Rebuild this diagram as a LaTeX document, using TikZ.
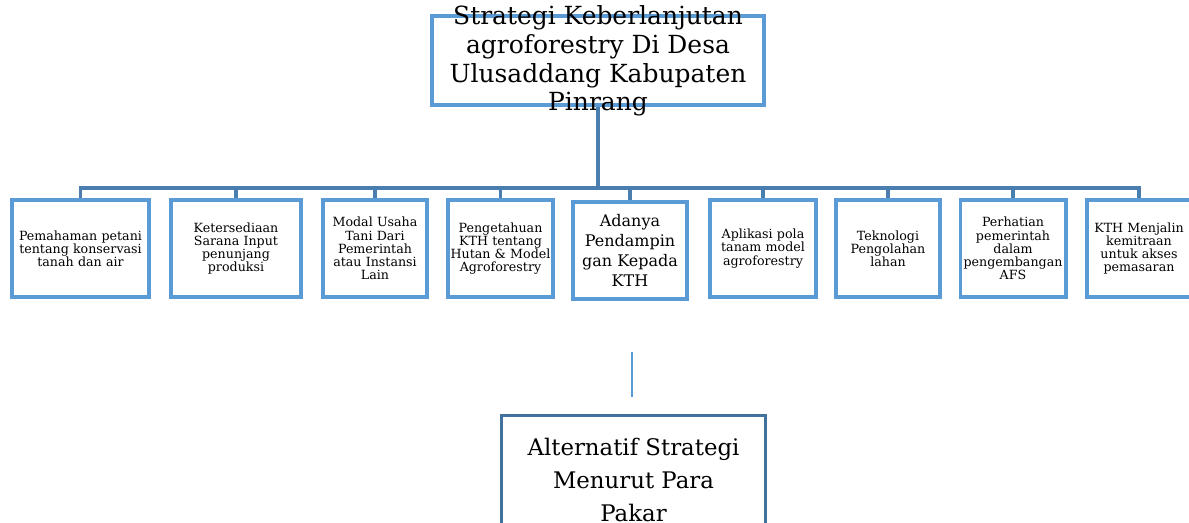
\documentclass[tikz,border=0pt]{standalone}
\usepackage{fontspec}
\setmainfont{DejaVu Serif}
\usetikzlibrary{positioning}
\definecolor{boxblue}{HTML}{5B9BD5}
\definecolor{busblue}{HTML}{4A7EAE}
\definecolor{darkblue}{HTML}{41719C}
\tikzset{
  stratbox/.style={draw=boxblue,line width=2pt,minimum width=6.64cm,
                   minimum height=1.78cm,inner sep=0pt},
  strattext/.style={align=center,inner sep=0pt,
                    font=\fontsize{14.2}{16.4}\selectfont},
  pilar/.style={draw=boxblue,line width=2pt,minimum height=1.94cm,
                align=center,inner sep=1pt,
                font=\fontsize{7.2}{7.5}\selectfont},
  pilarbig/.style={pilar,font=\fontsize{9.1}{11.3}\selectfont},
  altbox/.style={draw=darkblue,line width=1.7pt,minimum width=5.3cm,
                 minimum height=2.6cm,align=center,inner sep=2pt,
                 font=\fontsize{13}{18.7}\selectfont},
  bus/.style={draw=busblue,line width=2pt},
  thinlink/.style={draw=boxblue,line width=1.3pt}
}
\begin{document}
\begin{tikzpicture}[x=0.02cm,y=-0.02cm]
  \useasboundingbox (0,0) rectangle (1189,523);

  % goal
  \node[stratbox] (strat) at (598,60.5) {};
  \node[strattext] (stratlbl) at (598,61)
    {Strategi Keberlanjutan\\agroforestry Di Desa\\Ulusaddang Kabupaten\\Pinrang};

  % criteria
  \node[pilar,minimum width=2.74cm,text width=2.62cm] (p1) at (80.5,248.5)
    {Pemahaman petani\\tentang konservasi\\tanah dan air};
  \node[pilar,minimum width=2.6cm,text width=2.45cm] (p2) at (236,248.5)
    {Ketersediaan\\Sarana Input\\penunjang\\produksi};
  \node[pilar,minimum width=2.08cm,text width=1.98cm] (p3) at (375,248.5)
    {Modal Usaha\\Tani Dari\\Pemerintah\\atau Instansi\\Lain};
  \node[pilar,minimum width=2.1cm,text width=2.04cm] (p4) at (500.5,248.5)
    {Pengetahuan\\KTH tentang\\Hutan \& Model\\Agroforestry};
  \node[pilarbig,minimum width=2.28cm,text width=2.15cm] (p5) at (630,250.5)
    {Adanya\\Pendampin\\gan Kepada\\KTH};
  \node[pilar,minimum width=2.12cm,text width=2.0cm] (p6) at (763,248.5)
    {Aplikasi pola\\tanam model\\agroforestry};
  \node[pilar,minimum width=2.08cm,text width=1.95cm] (p7) at (888,248.5)
    {Teknologi\\Pengolahan\\lahan};
  \node[pilar,minimum width=2.08cm,text width=2.04cm] (p8) at (1013,248.5)
    {Perhatian\\pemerintah\\dalam\\pengembangan\\AFS};
  \node[pilar,minimum width=2.08cm,text width=1.98cm] (p9) at (1139,248.5)
    {KTH Menjalin\\kemitraan\\untuk akses\\pemasaran};

  % tree lines
  \coordinate (hub) at (598,188);
  \draw[bus] (strat.south) -- (hub);
  \foreach \i in {1,...,9}
    \draw[bus] (hub) -| (p\i.north);

  % alternative
  \coordinate (gapTop) at (632,352);
  \coordinate (gapEnd) at (632,397);
  \draw[thinlink] (gapTop) -- (gapEnd);
  \node[altbox] (alt) at (633.5,480)
    {Alternatif Strategi\\Menurut Para\\Pakar};
\end{tikzpicture}
\end{document}
